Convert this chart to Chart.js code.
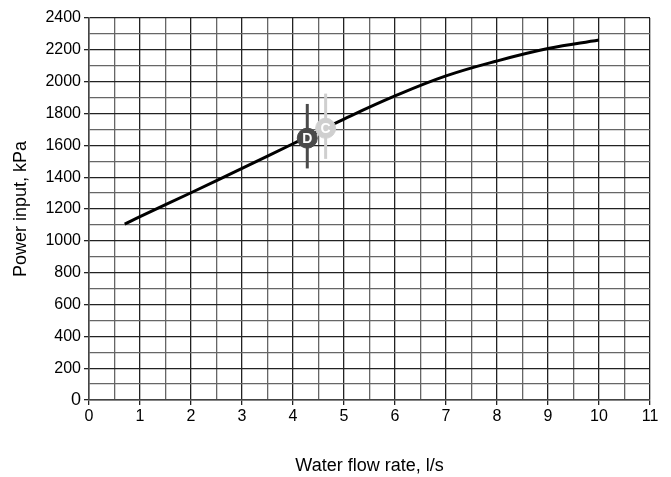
<!DOCTYPE html>
<html>
<head>
<meta charset="utf-8">
<script src="https://cdn.jsdelivr.net/npm/chart.js@4/dist/chart.umd.min.js"></script>
<style>
  html, body { margin: 0; padding: 0; background: #fff; }
  #wrap { width: 671px; height: 477px; }
</style>
</head>
<body>
<div id="wrap"><canvas id="pumpChart"></canvas></div>
<script>
// Curva principal (vazão em l/s, pressão em kPa)
const flowValues = [0.7, 1, 2, 3, 4, 5, 6, 7, 8, 9, 10];
const powerValues = [1105, 1152, 1302, 1455, 1610, 1765, 1910, 2036, 2130, 2208, 2262];

// Pontos marcados D e C
const markerLabels = ['D', 'C'];
const markerFlow = [4.28, 4.64];
const markerPower = [1645, 1707];
const markerLow = [1455, 1515];
const markerHigh = [1860, 1925];
const markerColors = ['#4a4a4a', '#cfcfcf'];

const xMin = 0, xMax = 11, xStep = 0.5;
const yMin = 0, yMax = 2400, yStep = 100;

const FONT = '"Liberation Sans", Arial, sans-serif';

const curveData = flowValues.map((x, i) => ({ x: x, y: powerValues[i] }));

const datasets = [{
    type: 'line',
    data: curveData,
    borderColor: '#000',
    borderWidth: 3,
    pointRadius: 0,
    tension: 0.4,
    order: 3
}];

// Barras verticais dos marcadores
markerLabels.forEach((lbl, i) => {
    datasets.push({
        type: 'line',
        data: [{ x: markerFlow[i], y: markerLow[i] }, { x: markerFlow[i], y: markerHigh[i] }],
        borderColor: markerColors[i],
        borderWidth: 3,
        pointRadius: 0,
        order: 2
    });
});

datasets.push({
    type: 'scatter',
    data: markerFlow.map((x, i) => ({ x: x, y: markerPower[i] })),
    backgroundColor: markerColors,
    borderColor: markerColors,
    pointRadius: 10,
    pointHoverRadius: 10,
    order: 1
});

// Letras dentro dos círculos
const markerText = {
    id: 'markerText',
    afterDatasetsDraw(chart) {
        const ctx = chart.ctx;
        const xs = chart.scales.x, ys = chart.scales.y;
        ctx.save();
        ctx.fillStyle = '#fff';
        ctx.font = 'bold 14px ' + FONT;
        ctx.textAlign = 'center';
        ctx.textBaseline = 'middle';
        markerLabels.forEach((lbl, i) => {
            ctx.fillText(lbl, xs.getPixelForValue(markerFlow[i]), ys.getPixelForValue(markerPower[i]) + 1);
        });
        ctx.restore();
    }
};

new Chart(document.getElementById('pumpChart'), {
    type: 'line',
    data: { datasets: datasets },
    plugins: [markerText],
    options: {
        responsive: true,
        maintainAspectRatio: false,
        animation: false,
        layout: { padding: { top: 18, right: 21, left: 0, bottom: 0 } },
        plugins: { legend: { display: false }, tooltip: { enabled: false } },
        scales: {
            x: {
                type: 'linear',
                min: xMin, max: xMax,
                border: { color: '#444', width: 1.5 },
                grid: {
                    color: ctx => (ctx.tick && Number.isInteger(ctx.tick.value)) ? '#222' : '#666',
                    lineWidth: 1.3,
                    tickLength: 5,
                    tickColor: ctx => (ctx.tick && Number.isInteger(ctx.tick.value)) ? '#222' : 'rgba(0,0,0,0)'
                },
                ticks: {
                    stepSize: xStep,
                    autoSkip: false,
                    maxRotation: 0,
                    color: '#000',
                    padding: 2,
                    font: { family: FONT, size: 16 },
                    callback: v => Number.isInteger(v) ? String(v) : ''
                },
                title: {
                    display: true,
                    text: 'Water flow rate, l/s',
                    color: '#000',
                    font: { family: FONT, size: 18 },
                    padding: { top: 24, bottom: 0 }
                },
                afterFit: s => { s.height = 77; }
            },
            y: {
                min: yMin, max: yMax,
                border: { color: '#444', width: 1.5 },
                grid: {
                    color: ctx => (ctx.tick && ctx.tick.value % 200 === 0) ? '#222' : '#666',
                    lineWidth: 1.3,
                    tickLength: 5,
                    tickColor: ctx => (ctx.tick && ctx.tick.value % 200 === 0) ? '#222' : 'rgba(0,0,0,0)'
                },
                ticks: {
                    stepSize: yStep,
                    autoSkip: false,
                    color: '#000',
                    padding: 3,
                    font: ctx => ({ family: FONT, size: (ctx.tick && ctx.tick.value === 0) ? 18 : 16 }),
                    callback: v => (v % 200 === 0) ? String(v) : ''
                },
                title: {
                    display: true,
                    text: 'Power input, kPa',
                    color: '#000',
                    font: { family: FONT, size: 18 },
                    padding: { top: 10, bottom: 4 }
                },
                afterFit: s => { s.width = 89; }
            }
        }
    }
});
</script>
</body>
</html>
